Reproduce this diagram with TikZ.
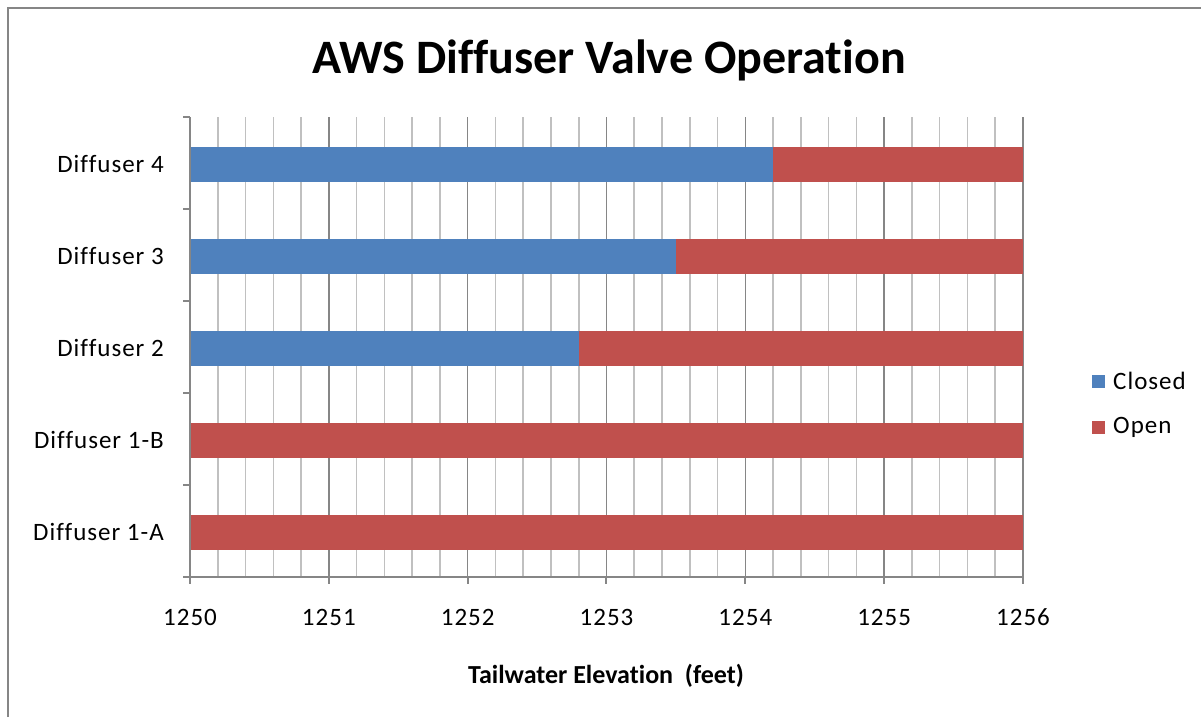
\documentclass[tikz,border=0pt]{standalone}
\usepackage{fontspec}
\setmainfont{Carlito}[Ligatures=NoCommon]
\newfontfamily\widefont{Carlito}[Ligatures=NoCommon, LetterSpace=4]
\definecolor{cblue}{HTML}{4F81BD}
\definecolor{cred}{HTML}{C0504D}
\definecolor{majgrid}{HTML}{868686}
\definecolor{mingrid}{HTML}{C0C0C0}
\tikzset{
  ticklabel/.style={font=\widefont\fontsize{25}{28}\selectfont, inner sep=0pt},
  catlabel/.style={font=\widefont\fontsize{25}{28}\selectfont, inner sep=0pt, anchor=east},
  closedbar/.style={fill=cblue},
  openbar/.style={fill=cred},
  minorline/.style={draw=mingrid, line width=1.6pt},
  majorline/.style={draw=majgrid, line width=1.6pt},
  axisline/.style={draw=majgrid, line width=2pt},
  framestyle/.style={draw=majgrid, line width=2pt},
}
\begin{document}
\begin{tikzpicture}[x=1pt,y=-1pt]
\useasboundingbox (0,0) rectangle (1201,717);
\fill[white] (0,0) rectangle (1201,717);
% frame
\draw[framestyle] (8,717) -- (8,8) -- (1201,8);
% title
\node[font=\fontsize{48}{54}\selectfont\bfseries, inner sep=0pt] (title) at (609,60) {AWS Diffuser Valve Operation};
% grid
\foreach \k in {1,...,30} {
  \pgfmathsetmacro{\xx}{190+\k*27.766}
  \pgfmathtruncatemacro{\m}{mod(\k,5)}
  \ifnum\m=0
    \draw[majorline] (\xx,117) -- (\xx,577);
  \else
    \draw[minorline] (\xx,117) -- (\xx,577);
  \fi
}
% bars
\newcommand{\barrow}[2]{%
  \pgfmathsetmacro{\xe}{190+#2*138.83}
  \fill[closedbar] (190,#1-17.5) rectangle (\xe,#1+17.5);
  \fill[openbar] (\xe,#1-17.5) rectangle (1023,#1+17.5);
}
\barrow{164}{4.2}
\barrow{256}{3.5}
\barrow{348}{2.8}
\barrow{440}{0}
\barrow{532}{0}
% axes
\draw[axisline] (190,117) -- (190,577);
\draw[axisline] (183,577) -- (1023,577);
\foreach \yy in {117,209,301,393,485} \draw[axisline] (183,\yy) -- (190,\yy);
\foreach \k in {0,...,6} {
  \pgfmathsetmacro{\xx}{190+\k*138.83}
  \draw[axisline] (\xx,577) -- (\xx,584);
}
% tick labels
\foreach \k/\lab in {0/1250,1/1251,2/1252,3/1253,4/1254,5/1255,6/1256} {
  \pgfmathsetmacro{\xx}{190+\k*138.83}
  \node[ticklabel] (t\k) at (\xx,617) {\lab};
}
% category labels
\node[catlabel] (c4) at (164,164) {Diffuser 4};
\node[catlabel] (c3) at (164,256) {Diffuser 3};
\node[catlabel] (c2) at (164,348) {Diffuser 2};
\node[catlabel] (c1b) at (164,440) {Diffuser 1-B};
\node[catlabel] (c1a) at (164,532) {Diffuser 1-A};
% axis title
\node[font=\fontsize{26}{29}\selectfont\bfseries, inner sep=0pt] (xtitle) at (606,676) {Tailwater Elevation\ \ (feet)};
% legend
\fill[cblue] (1092,375) rectangle (1105,388);
\node[ticklabel, anchor=west] (lclosed) at (1113,381) {Closed};
\fill[cred] (1092,421) rectangle (1105,434);
\node[ticklabel, anchor=west] (lopen) at (1113,427) {Open};
\end{tikzpicture}
\end{document}
